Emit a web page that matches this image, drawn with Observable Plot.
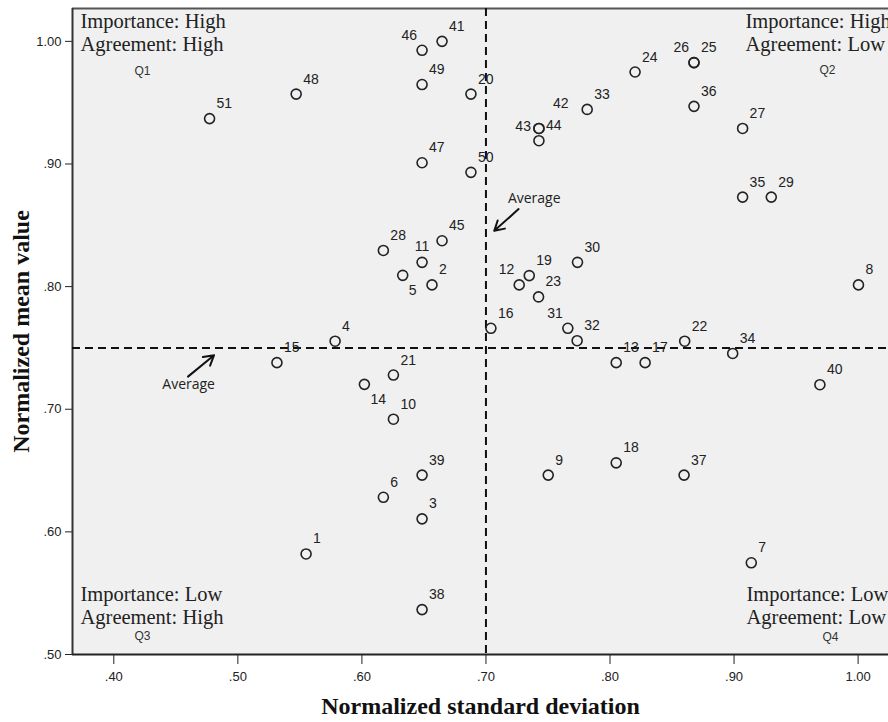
<!DOCTYPE html>
<html>
<head>
<meta charset="utf-8">
<script src="https://cdn.jsdelivr.net/npm/d3@7"></script>
<script src="https://cdn.jsdelivr.net/npm/@observablehq/plot@0.6"></script>
<style>
  html, body { margin: 0; padding: 0; background: #ffffff; overflow: hidden; }
  #chart svg { display: block; overflow: hidden; }
</style>
</head>
<body>
<div id="chart"></div>
<script>
// ---- data ----
const ids  = [1, 2, 3, 4, 5, 6, 7, 8, 9, 10,
              11, 12, 13, 14, 15, 16, 17, 18, 19, 20,
              21, 22, 23, 24, 25, 26, 27, 28, 29, 30,
              31, 32, 33, 34, 35, 36, 37, 38, 39, 40,
              41, 42, 43, 44, 45, 46, 47, 48, 49, 50, 51];
const stdDev = [0.555, 0.6565, 0.6485, 0.5784, 0.6329, 0.6173, 0.9139, 1.0003, 0.7502, 0.6254,
                0.6485, 0.7268, 0.805, 0.602, 0.5315, 0.704, 0.8283, 0.805, 0.7349, 0.6879,
                0.6254, 0.8602, 0.7424, 0.8202, 0.8677, 0.8677, 0.9069, 0.6173, 0.930, 0.7738,
                0.766, 0.7735, 0.7816, 0.8989, 0.9069, 0.8677, 0.8597, 0.6485, 0.6485, 0.9692,
                0.6646, 0.7427, 0.7427, 0.7427, 0.6646, 0.6485, 0.6485, 0.547, 0.6485, 0.6879, 0.4772];
const meanVal = [0.582, 0.8014, 0.6106, 0.7555, 0.8092, 0.6282, 0.5748, 0.8014, 0.6463, 0.6919,
                 0.8198, 0.8014, 0.738, 0.7203, 0.738, 0.766, 0.738, 0.6563, 0.809, 0.957,
                 0.7279, 0.7555, 0.7916, 0.975, 0.9827, 0.9827, 0.929, 0.8295, 0.873, 0.8198,
                 0.766, 0.7559, 0.9445, 0.7455, 0.873, 0.947, 0.6463, 0.5366, 0.6463, 0.72,
                 1.000, 0.929, 0.929, 0.919, 0.8374, 0.9927, 0.901, 0.957, 0.9648, 0.8932, 0.937];
// label placement codes (default "ne")
const labelPlacement = {5: "se", 14: "se", 12: "nw", 31: "nw", 46: "nw", 26: "nw", 43: "w", 11: "n", 42: "ne2"};

const averageX = 0.70;
const averageY = 0.75;

const xTicks = [0.40, 0.50, 0.60, 0.70, 0.80, 0.90, 1.00];
const yTicks = [0.50, 0.60, 0.70, 0.80, 0.90, 1.00];
const xDomain = [0.3667, 1.0245];
const yDomain = [0.50, 1.0268];

// "Average" annotations: arrow from (x1,y1) to (x2,y2), text at (tx,ty)
const avgArrowX1 = [0.4598, 0.7263];
const avgArrowY1 = [0.7266, 0.8632];
const avgArrowX2 = [0.4808, 0.7067];
const avgArrowY2 = [0.7441, 0.8455];
const avgTextX = [0.4603, 0.7389];
const avgTextY = [0.7200, 0.8720];

const quadrantText = ["Importance: High\nAgreement: High", "Importance: High\nAgreement: Low",
                      "Importance: Low\nAgreement: High", "Importance: Low\nAgreement: Low"];
const quadrantNames = ["Q1", "Q2", "Q3", "Q4"];

const xTitle = "Normalized standard deviation";
const yTitle = "Normalized mean value";

// ---- build ----
const points = ids.map((id, i) => ({id, sd: stdDev[i], mean: meanVal[i], place: labelPlacement[id] || "ne"}));
const avgAnn = avgArrowX1.map((d, i) => ({x1: d, y1: avgArrowY1[i], x2: avgArrowX2[i], y2: avgArrowY2[i], tx: avgTextX[i], ty: avgTextY[i]}));

const fmt = d => d.toFixed(2).replace(/^0/, "");
const sans = "Liberation Sans, Arial, Helvetica, sans-serif";
const serif = "Liberation Serif, Times New Roman, serif";

const placeStyles = {
  ne:  {dx: 7, dy: -15, textAnchor: "start"},
  ne2: {dx: 14, dy: -25, textAnchor: "start"},
  se:  {dx: 6, dy: 15, textAnchor: "start"},
  nw:  {dx: -5, dy: -15, textAnchor: "end"},
  w:   {dx: -8, dy: -2, textAnchor: "end"},
  n:   {dx: 0, dy: -16, textAnchor: "middle"}
};

const labelMarks = Object.entries(placeStyles).map(([k, s]) =>
  Plot.text(points.filter(p => p.place === k), {
    x: "sd", y: "mean", text: d => String(d.id),
    dx: s.dx, dy: s.dy, textAnchor: s.textAnchor,
    fontSize: 14, fontFamily: sans, fill: "#222"
  })
);

const qStyle = {textAnchor: "start", lineAnchor: "top", lineHeight: 1.13, fontSize: 20.5, fontFamily: serif, fill: "#222"};
const qnStyle = {fontSize: 12, fontFamily: sans, fill: "#333"};

const chart = Plot.plot({
  width: 888,
  height: 722,
  marginLeft: 72,
  marginRight: 0,
  marginTop: 8,
  marginBottom: 68,
  style: {fontFamily: sans, fontSize: "13px", color: "#222", background: "#ffffff"},
  x: {domain: xDomain, ticks: xTicks, tickFormat: fmt, tickSize: 10, tickPadding: 7, label: null},
  y: {domain: yDomain, ticks: yTicks, tickFormat: fmt, tickSize: 7, tickPadding: 4, label: null},
  marks: [
    Plot.frame({fill: "#f0f0f0", stroke: null}),
    Plot.ruleY([yDomain[1]], {stroke: "#555", strokeWidth: 2}),
    Plot.ruleY([yDomain[0]], {stroke: "#222", strokeWidth: 2}),
    Plot.ruleX([xDomain[0]], {stroke: "#333", strokeWidth: 2}),
    Plot.ruleX([averageX], {stroke: "#111", strokeWidth: 2, strokeDasharray: "8,5"}),
    Plot.ruleY([averageY], {stroke: "#111", strokeWidth: 2, strokeDasharray: "8,5"}),
    Plot.dot(points, {x: "sd", y: "mean", r: 5, stroke: "#222", strokeWidth: 1.6, fill: "none"}),
    ...labelMarks,
    Plot.arrow(avgAnn, {x1: "x1", y1: "y1", x2: "x2", y2: "y2", stroke: "#111", strokeWidth: 2, headLength: 9}),
    Plot.text(avgAnn, {x: "tx", y: "ty", text: () => "Average", fontSize: 14, fontFamily: "Open Sans, sans-serif", fill: "#222"}),
    // quadrant annotations
    Plot.text([quadrantText[0]], {frameAnchor: "top-left", dx: 8, dy: 3, ...qStyle}),
    Plot.text([quadrantText[1]], {frameAnchor: "top-right", dx: -143, dy: 3, ...qStyle}),
    Plot.text([quadrantText[2]], {frameAnchor: "bottom-left", dx: 8, dy: -70, ...qStyle}),
    Plot.text([quadrantText[3]], {frameAnchor: "bottom-right", dx: -142, dy: -70, ...qStyle}),
    Plot.text([quadrantNames[0]], {frameAnchor: "top-left", dx: 62, dy: 58, ...qnStyle}),
    Plot.text([quadrantNames[1]], {frameAnchor: "top-right", dx: -53, dy: 57, ...qnStyle}),
    Plot.text([quadrantNames[2]], {frameAnchor: "bottom-left", dx: 62, dy: -15, ...qnStyle}),
    Plot.text([quadrantNames[3]], {frameAnchor: "bottom-right", dx: -50, dy: -14, ...qnStyle}),
    // axis titles
    Plot.text([xTitle], {frameAnchor: "bottom", dy: 59, textAnchor: "middle", fontSize: 24, fontWeight: "bold", fontFamily: serif, fill: "#111"}),
    Plot.text([yTitle], {frameAnchor: "left", dx: -51, rotate: -90, textAnchor: "middle", fontSize: 24, fontWeight: "bold", fontFamily: serif, fill: "#111"})
  ]
});
document.getElementById("chart").appendChild(chart);
</script>
</body>
</html>
